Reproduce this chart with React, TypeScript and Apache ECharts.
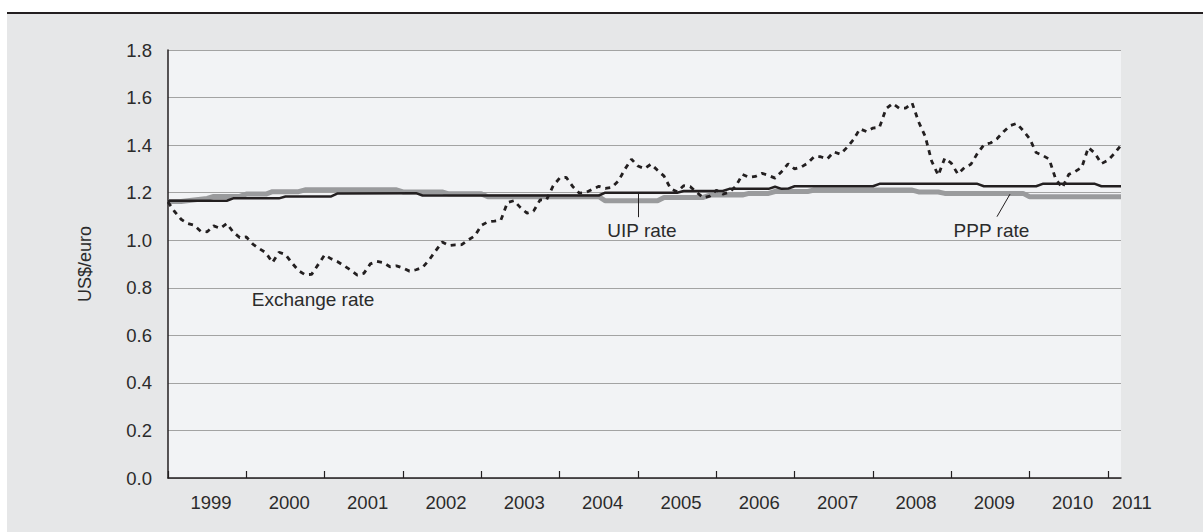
import React, { useEffect, useRef } from "react";
import * as echarts from "echarts";

// Monthly US$/euro exchange rate, Jan 1999 – Mar 2011
const exchangeRate: number[] = [
  1.1608, 1.1208, 1.0883, 1.0704, 1.0628, 1.0378, 1.0353, 1.0604, 1.0501, 1.0706, 1.0338, 1.011,
  1.0137, 0.9834, 0.9643, 0.947, 0.906, 0.9492, 0.9397, 0.9041, 0.8721, 0.8552, 0.8564, 0.8973,
  0.9383, 0.9217, 0.9095, 0.892, 0.8742, 0.8532, 0.8607, 0.9005, 0.9111, 0.9059, 0.8883, 0.8924,
  0.8833, 0.87, 0.8758, 0.8858, 0.917, 0.9554, 0.9922, 0.9778, 0.9808, 0.9811, 1.0014, 1.0183,
  1.0622, 1.0773, 1.0807, 1.0848, 1.1582, 1.1663, 1.1372, 1.1139, 1.1222, 1.1692, 1.1702, 1.2286,
  1.2613, 1.2646, 1.2262, 1.1985, 1.2007, 1.2138, 1.2266, 1.2176, 1.2218, 1.249, 1.2991, 1.3408,
  1.3119, 1.3014, 1.3201, 1.2938, 1.2694, 1.2165, 1.2037, 1.2292, 1.2256, 1.2015, 1.1786, 1.1856,
  1.2103, 1.1938, 1.202, 1.2271, 1.277, 1.265, 1.2684, 1.2811, 1.2727, 1.2611, 1.2881, 1.3213,
  1.2999, 1.3074, 1.3242, 1.3516, 1.3511, 1.3419, 1.3716, 1.3622, 1.3896, 1.4227, 1.4684, 1.457,
  1.4718, 1.4748, 1.5527, 1.575, 1.5557, 1.5553, 1.577, 1.4975, 1.437, 1.3322, 1.2732, 1.3449,
  1.3239, 1.2785, 1.305, 1.319, 1.365, 1.4016, 1.4088, 1.4268, 1.4562, 1.4816, 1.4914, 1.4614,
  1.4272, 1.3686, 1.3569, 1.3406, 1.2565, 1.2209, 1.277, 1.2894, 1.3067, 1.3898, 1.3661, 1.322,
  1.336, 1.3649, 1.3999,
];

// UIP rate: [month index since Jan 1999, value]
const uipRate: [number, number][] = [
  [0, 1.166], [9, 1.166], [10, 1.176], [17, 1.176], [18, 1.184], [25, 1.184], [26, 1.197],
  [38, 1.198], [39, 1.188], [66, 1.188], [67, 1.2], [78, 1.2], [79, 1.207], [85, 1.207],
  [86, 1.216], [92, 1.216], [93, 1.225], [94, 1.216], [95, 1.217], [96, 1.227], [108, 1.227],
  [109, 1.237], [124, 1.237], [125, 1.227], [133, 1.227], [134, 1.237], [142, 1.237],
  [143, 1.227], [146, 1.227],
];

// PPP rate: [month index since Jan 1999, value]
const pppRate: [number, number][] = [
  [0, 1.163], [2, 1.163], [6, 1.176], [7, 1.184], [11, 1.184], [12, 1.194], [15, 1.194],
  [16, 1.204], [20, 1.204], [21, 1.212], [35, 1.212], [36, 1.203], [42, 1.203], [43, 1.195],
  [48, 1.195], [49, 1.183], [66, 1.183], [67, 1.166], [75, 1.166], [76, 1.18], [82, 1.18],
  [83, 1.19], [88, 1.19], [89, 1.197], [92, 1.197], [93, 1.205], [98, 1.205], [99, 1.211],
  [114, 1.211], [115, 1.203], [118, 1.203], [119, 1.197], [131, 1.197], [132, 1.183],
  [146, 1.183],
];

const START_YEAR = 1999;
const months: string[] = exchangeRate.map(
  (_, i) => `${START_YEAR + Math.floor(i / 12)}-${String((i % 12) + 1).padStart(2, "0")}`
);

const yTicks = { min: 0, max: 1.8, interval: 0.2 };

const FONT = 'Arial, "Liberation Sans", sans-serif';
const TEXT = "#2b2b2b";
const DARK = "#231f20";

export default function App() {
  const ref = useRef<HTMLDivElement>(null);

  useEffect(() => {
    if (!ref.current) return;
    const chart = echarts.init(ref.current, undefined, { renderer: "svg" });
    const lastYearTick = Math.floor((months.length - 1) / 12) * 12;

    chart.setOption({
      animation: false,
      grid: {
        left: 168,
        right: 82,
        top: 50,
        bottom: 54,
        show: true,
        backgroundColor: "#f2f3f5",
        borderWidth: 0,
      },
      xAxis: {
        type: "category",
        data: months,
        boundaryGap: false,
        axisLine: { lineStyle: { color: DARK, width: 1.5 } },
        axisTick: {
          inside: true,
          length: 7,
          interval: (i: number) => i % 12 === 0,
          lineStyle: { color: DARK, width: 1.2 },
        },
        axisLabel: {
          interval: (i: number) => i % 12 === 0,
          margin: 15,
          color: TEXT,
          fontSize: 18.5,
          fontFamily: FONT,
          formatter: (value: string, index: number) => {
            const y = value.slice(0, 4);
            return index >= lastYearTick ? `{e|${y}}` : `{n|${y}}`;
          },
          rich: {
            n: { padding: [0, 0, 0, 86], fontSize: 18.5, fontFamily: FONT, color: TEXT },
            e: { padding: [0, 0, 0, 48], fontSize: 18.5, fontFamily: FONT, color: TEXT },
          },
        },
        splitLine: { show: false },
      },
      yAxis: {
        type: "value",
        min: yTicks.min,
        max: yTicks.max,
        interval: yTicks.interval,
        name: "US$/euro",
        nameLocation: "middle",
        nameRotate: 90,
        nameGap: 74,
        nameTextStyle: { color: TEXT, fontSize: 18, fontFamily: FONT },
        axisLine: { show: true, lineStyle: { color: DARK, width: 1.5 } },
        axisTick: { show: false },
        axisLabel: {
          margin: 16,
          color: TEXT,
          fontSize: 18.5,
          fontFamily: FONT,
          formatter: (v: number) => v.toFixed(1),
        },
        splitLine: { lineStyle: { color: "#a3a3a3", width: 1.2 } },
      },
      series: [
        {
          name: "PPP rate",
          type: "line",
          data: pppRate,
          symbol: "none",
          lineStyle: { color: "#9a9b9d", width: 5 },
          z: 2,
          markPoint: {
            symbol: "circle",
            symbolSize: 1,
            itemStyle: { color: "rgba(0,0,0,0)" },
            silent: true,
            data: [
              {
                coord: [126, 1.04],
                label: {
                  show: true,
                  position: "inside",
                  formatter: "PPP rate",
                  color: TEXT,
                  fontSize: 19,
                  fontFamily: FONT,
                  offset: [1, 0],
                },
              },
            ],
          },
          markLine: {
            symbol: ["none", "none"],
            silent: true,
            label: { show: false },
            lineStyle: { color: DARK, width: 1, type: "solid" },
            data: [[{ coord: [129, 1.194] }, { coord: [127, 1.099] }]],
          },
        },
        {
          name: "UIP rate",
          type: "line",
          data: uipRate,
          symbol: "none",
          lineStyle: { color: DARK, width: 2.5 },
          z: 3,
          markPoint: {
            symbol: "circle",
            symbolSize: 1,
            itemStyle: { color: "rgba(0,0,0,0)" },
            silent: true,
            data: [
              {
                coord: [73, 1.04],
                label: {
                  show: true,
                  position: "inside",
                  formatter: "UIP rate",
                  color: TEXT,
                  fontSize: 19,
                  fontFamily: FONT,
                  offset: [-2.5, 0],
                },
              },
            ],
          },
          markLine: {
            symbol: ["none", "none"],
            silent: true,
            label: { show: false },
            lineStyle: { color: DARK, width: 1, type: "solid" },
            data: [[{ coord: [72, 1.197] }, { coord: [72, 1.097] }]],
          },
        },
        {
          name: "Exchange rate",
          type: "line",
          data: exchangeRate,
          symbol: "none",
          lineStyle: { color: DARK, width: 2.8, type: [5, 5] },
          z: 4,
          markPoint: {
            symbol: "circle",
            symbolSize: 1,
            itemStyle: { color: "rgba(0,0,0,0)" },
            silent: true,
            data: [
              {
                coord: [22, 0.752],
                label: {
                  show: true,
                  position: "inside",
                  formatter: "Exchange rate",
                  color: TEXT,
                  fontSize: 19,
                  fontFamily: FONT,
                  offset: [1.5, 0],
                },
              },
            ],
          },
        },
      ],
    });

    return () => chart.dispose();
  }, []);

  return (
    <div
      style={{
        position: "absolute",
        left: 0,
        top: 0,
        width: 1203,
        height: 532,
        background: "#ffffff",
        overflow: "hidden",
      }}
    >
      <div
        style={{
          position: "absolute",
          left: 7,
          top: 11.5,
          width: 1196,
          height: 520.5,
          background: "#e6e7e8",
          borderTop: "2.5px solid #231f20",
          boxSizing: "border-box",
        }}
      />
      <div
        ref={ref}
        style={{ position: "absolute", left: 0, top: 0, width: 1203, height: 532 }}
      />
    </div>
  );
}
